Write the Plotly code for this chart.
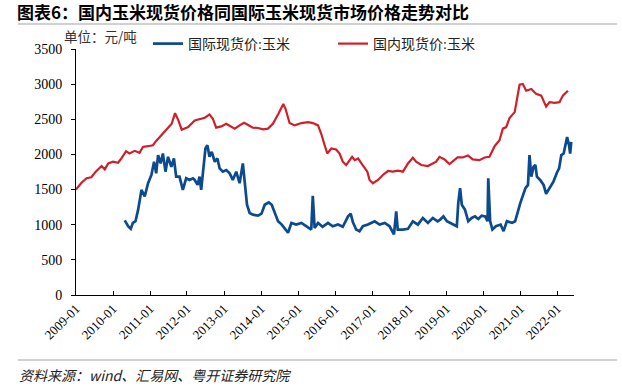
import plotly.graph_objects as go

# ---------------- data ----------------
dom_dates = [
    "2009-01-01", "2009-02-20", "2009-04-15", "2009-06-01", "2009-07-15", "2009-09-10",
    "2009-10-12", "2009-11-15", "2010-01-01", "2010-02-20", "2010-03-25", "2010-05-10",
    "2010-06-12", "2010-08-03", "2010-09-20", "2010-10-23", "2010-12-10", "2011-01-30",
    "2011-03-03", "2011-04-23", "2011-06-28", "2011-08-03", "2011-09-05", "2011-10-08",
    "2011-11-10", "2012-01-12", "2012-03-17", "2012-05-05", "2012-06-25", "2012-08-10",
    "2012-09-12", "2012-10-15", "2012-12-05", "2013-01-22", "2013-03-15", "2013-04-16",
    "2013-06-03", "2013-07-16", "2013-08-22", "2013-10-12", "2013-12-02", "2014-01-20",
    "2014-03-10", "2014-04-27", "2014-06-21", "2014-08-08", "2014-08-30", "2014-10-09",
    "2014-11-29", "2015-02-03", "2015-04-10", "2015-05-27", "2015-07-17", "2015-08-18",
    "2015-09-20", "2015-10-16", "2015-11-25", "2016-01-12", "2016-02-14", "2016-03-17",
    "2016-04-19", "2016-05-22", "2016-06-17", "2016-07-13", "2016-08-15", "2016-09-17",
    "2016-11-14", "2016-12-06", "2017-01-08", "2017-02-28", "2017-04-16", "2017-06-06",
    "2017-07-24", "2017-09-13", "2017-10-31", "2017-12-20", "2018-02-06", "2018-03-10",
    "2018-05-01", "2018-07-05", "2018-08-22", "2018-09-24", "2018-10-27", "2018-12-16",
    "2019-02-03", "2019-04-23", "2019-06-13", "2019-08-03", "2019-09-20", "2019-11-25",
    "2020-01-15", "2020-03-03", "2020-04-23", "2020-06-10", "2020-07-13", "2020-08-15",
    "2020-09-17", "2020-11-07", "2020-12-03", "2020-12-25", "2021-01-26", "2021-02-28",
    "2021-04-20", "2021-06-06", "2021-07-27", "2021-09-13", "2021-10-16", "2021-12-06",
    "2022-01-23", "2022-02-25", "2022-04-16",
]
dom_price = [
    1500, 1590, 1661, 1675, 1755, 1835,
    1788, 1872, 1896, 1882, 1943, 2046,
    2013, 2051, 2023, 2107, 2117, 2131,
    2192, 2272, 2389, 2437, 2587, 2484,
    2352, 2389, 2484, 2500, 2522, 2569,
    2508, 2381, 2399, 2437, 2399, 2367,
    2413, 2451, 2423, 2381, 2376, 2357,
    2367, 2437, 2578, 2719, 2649, 2446,
    2413, 2446, 2460, 2446, 2413, 2290,
    2131, 2013, 2084, 2070, 2013, 1896,
    1849, 1919, 1966, 1919, 1943, 1872,
    1755, 1637, 1590, 1637, 1708, 1764,
    1755, 1769, 1755, 1872, 1952, 1896,
    1849, 1835, 1872, 1896, 1966, 1929,
    1863, 1957, 1957, 1985, 1929, 1919,
    1957, 1966, 2117, 2202, 2367, 2389,
    2517, 2602, 2813, 2992, 3002, 2907,
    2931, 2861, 2837, 2680, 2743, 2733,
    2743, 2837, 2907,
]

intl_dates = [
    "2010-04-27", "2010-05-30", "2010-06-25", "2010-07-16", "2010-08-11", "2010-09-06",
    "2010-10-09", "2010-11-10", "2010-12-13", "2011-01-15", "2011-02-10", "2011-03-03",
    "2011-03-22", "2011-04-16", "2011-05-08", "2011-06-03", "2011-06-28", "2011-07-31",
    "2011-08-25", "2011-09-16", "2011-10-19", "2011-11-21", "2011-12-24", "2012-01-26",
    "2012-02-28", "2012-03-17", "2012-04-15", "2012-05-04", "2012-05-20", "2012-06-06",
    "2012-07-01", "2012-07-20", "2012-08-10", "2012-09-01", "2012-10-01", "2012-10-27",
    "2012-11-18", "2012-12-20", "2013-01-22", "2013-02-25", "2013-03-28", "2013-05-01",
    "2013-06-03", "2013-07-05", "2013-07-28", "2013-08-15", "2013-09-10", "2013-10-12",
    "2013-12-02", "2014-01-05", "2014-02-06", "2014-03-18", "2014-04-16", "2014-05-15",
    "2014-06-17", "2014-07-24", "2014-09-05", "2014-09-24", "2014-10-27", "2014-12-13",
    "2015-02-03", "2015-03-23", "2015-05-11", "2015-05-26", "2015-06-13", "2015-07-17",
    "2015-08-31", "2015-10-23", "2015-12-09", "2016-01-30", "2016-03-17", "2016-05-08",
    "2016-06-03", "2016-06-25", "2016-07-27", "2016-08-29", "2016-10-01", "2016-11-20",
    "2017-01-26", "2017-03-15", "2017-05-05", "2017-06-21", "2017-08-04", "2017-08-26",
    "2017-09-10", "2017-10-31", "2017-12-20", "2018-02-06", "2018-03-28", "2018-05-16",
    "2018-07-05", "2018-08-22", "2018-10-08", "2018-11-03", "2018-12-05", "2019-01-08",
    "2019-02-10", "2019-03-14", "2019-04-16", "2019-04-30", "2019-05-18", "2019-06-04",
    "2019-07-05", "2019-08-07", "2019-09-10", "2019-10-12", "2019-11-14", "2019-12-17",
    "2020-01-20", "2020-02-13", "2020-02-20", "2020-03-10", "2020-04-01", "2020-05-05",
    "2020-06-21", "2020-07-20", "2020-08-22", "2020-10-12", "2020-11-11", "2021-01-01",
    "2021-02-21", "2021-03-18", "2021-04-02", "2021-04-20", "2021-05-12", "2021-05-30",
    "2021-06-14", "2021-07-16", "2021-08-19", "2021-09-13", "2021-10-24", "2021-11-24",
    "2021-12-28", "2022-01-19", "2022-02-10", "2022-03-05", "2022-03-29", "2022-04-08",
    "2022-04-27", "2022-05-08", "2022-05-19",
]
intl_price = [
    1063, 978, 941, 1026, 1049, 1214,
    1496, 1402, 1590, 1708, 1896, 1731,
    1990, 1872, 2013, 1755, 1966, 1825,
    1943, 1684, 1684, 1496, 1661, 1637,
    1661, 1637, 1566, 1684, 1496, 1731,
    2084, 2131, 1966, 2037, 1896, 1943,
    1802, 1755, 1778, 1731, 1637, 1755,
    1590, 1872, 1543, 1284, 1167, 1143,
    1129, 1157, 1284, 1317, 1284, 1167,
    1049, 1002, 931, 885, 1026, 1002,
    1026, 978, 931, 1411, 955, 1026,
    970, 1026, 978, 1002, 970, 1119,
    1157, 1035, 931, 908, 978, 1002,
    1049, 1002, 1026, 978, 861, 1190,
    931, 931, 941, 1049, 1002, 1096,
    1026, 1096, 1049, 1073, 1119, 1049,
    1026, 1002, 978, 1308, 1520, 1284,
    1214, 1049, 1096, 1119, 1082, 1129,
    1119, 1049, 1661, 1049, 931, 978,
    1002, 908, 1049, 1026, 1049, 1308,
    1520, 1566, 1990, 1684, 1825, 1849,
    1684, 1637, 1566, 1440, 1543, 1613,
    1740, 1802, 1990, 2013, 2178, 2249,
    2131, 2013, 2178,
]

name_intl = "国际现货价:玉米"
name_dom = "国内现货价:玉米"
title_text = "图表6：国内玉米现货价格同国际玉米现货市场价格走势对比"
unit_text = "单位：元/吨"
source_text = "资料来源：wind、汇易网、粤开证券研究院"
y_ticks = [0, 500, 1000, 1500, 2000, 2500, 3000, 3500]

# ---------------- figure ----------------
W, H = 622, 391
L, R, T, B = 76, 574, 49, 295  # plot area in pixels


def px_x(p):
    return (p - L) / (R - L)


def px_y(p):
    return (B - p) / (B - T)


fig = go.Figure()
fig.add_trace(go.Scatter(x=intl_dates, y=intl_price, mode="lines", name=name_intl,
                         line=dict(color="#0B4A8F", width=2.7)))
fig.add_trace(go.Scatter(x=dom_dates, y=dom_price, mode="lines", name=name_dom,
                         line=dict(color="#CF1F2A", width=2.2)))

serif = "Liberation Serif, Times New Roman, Noto Sans CJK SC, serif"
cjk = "Noto Sans CJK SC, sans-serif"

fig.update_layout(
    width=W, height=H,
    margin=dict(l=L, r=W - R, t=T, b=H - B, pad=0, autoexpand=False),
    paper_bgcolor="white", plot_bgcolor="white",
    showlegend=True,
    legend=dict(orientation="h", xref="paper", yref="paper",
                x=px_x(148), y=px_y(44), xanchor="left", yanchor="middle",
                font=dict(family=serif, size=14, color="#222"),
                entrywidth=140, entrywidthmode="pixels",
                bgcolor="rgba(0,0,0,0)", tracegroupgap=0),
    title=dict(text="<b>" + title_text + "</b>", xref="container", yref="container",
               x=17 / W, y=1 - 13 / H, xanchor="left", yanchor="middle",
               font=dict(family=cjk, size=17, color="black")),
    xaxis=dict(type="date", range=["2009-01-01", "2022-06-15"], automargin=False,
               tick0="2009-01-01", dtick="M12", tickformat="%Y-%m",
               tickangle=-45, ticks="inside", ticklen=4, tickcolor="black",
               showline=True, linecolor="black", linewidth=1,
               showgrid=False, zeroline=False,
               tickfont=dict(family=serif, size=13, color="black")),
    yaxis=dict(range=[0, 3500], tickvals=y_ticks, ticks="outside", ticklen=4,
               automargin=False,
               tickcolor="black", showline=True, linecolor="black", linewidth=1,
               showgrid=False, zeroline=False, ticklabelstandoff=6,
               tickfont=dict(family=serif, size=14, color="black")),
    annotations=[
        dict(text=unit_text, xref="paper", yref="paper", x=px_x(62), y=px_y(36),
             xanchor="left", yanchor="middle", showarrow=False,
             font=dict(family=cjk, size=13.5, color="#333")),
        dict(text="<i>" + source_text + "</i>", xref="paper", yref="paper",
             x=px_x(17), y=px_y(375), xanchor="left", yanchor="middle", showarrow=False,
             font=dict(family=cjk, size=14, color="#222")),
    ],
    shapes=[
        dict(type="line", xref="paper", yref="paper", x0=px_x(18), x1=px_x(617),
             y0=px_y(24), y1=px_y(24), line=dict(color="#D0D0D0", width=2)),
        dict(type="line", xref="paper", yref="paper", x0=px_x(18), x1=px_x(617),
             y0=px_y(360), y1=px_y(360), line=dict(color="#D0D0D0", width=2)),
    ],
)

fig.write_html("out.html",
               config={"displayModeBar": False},
               post_script="document.body.style.margin='0';document.body.style.overflow='hidden';")
